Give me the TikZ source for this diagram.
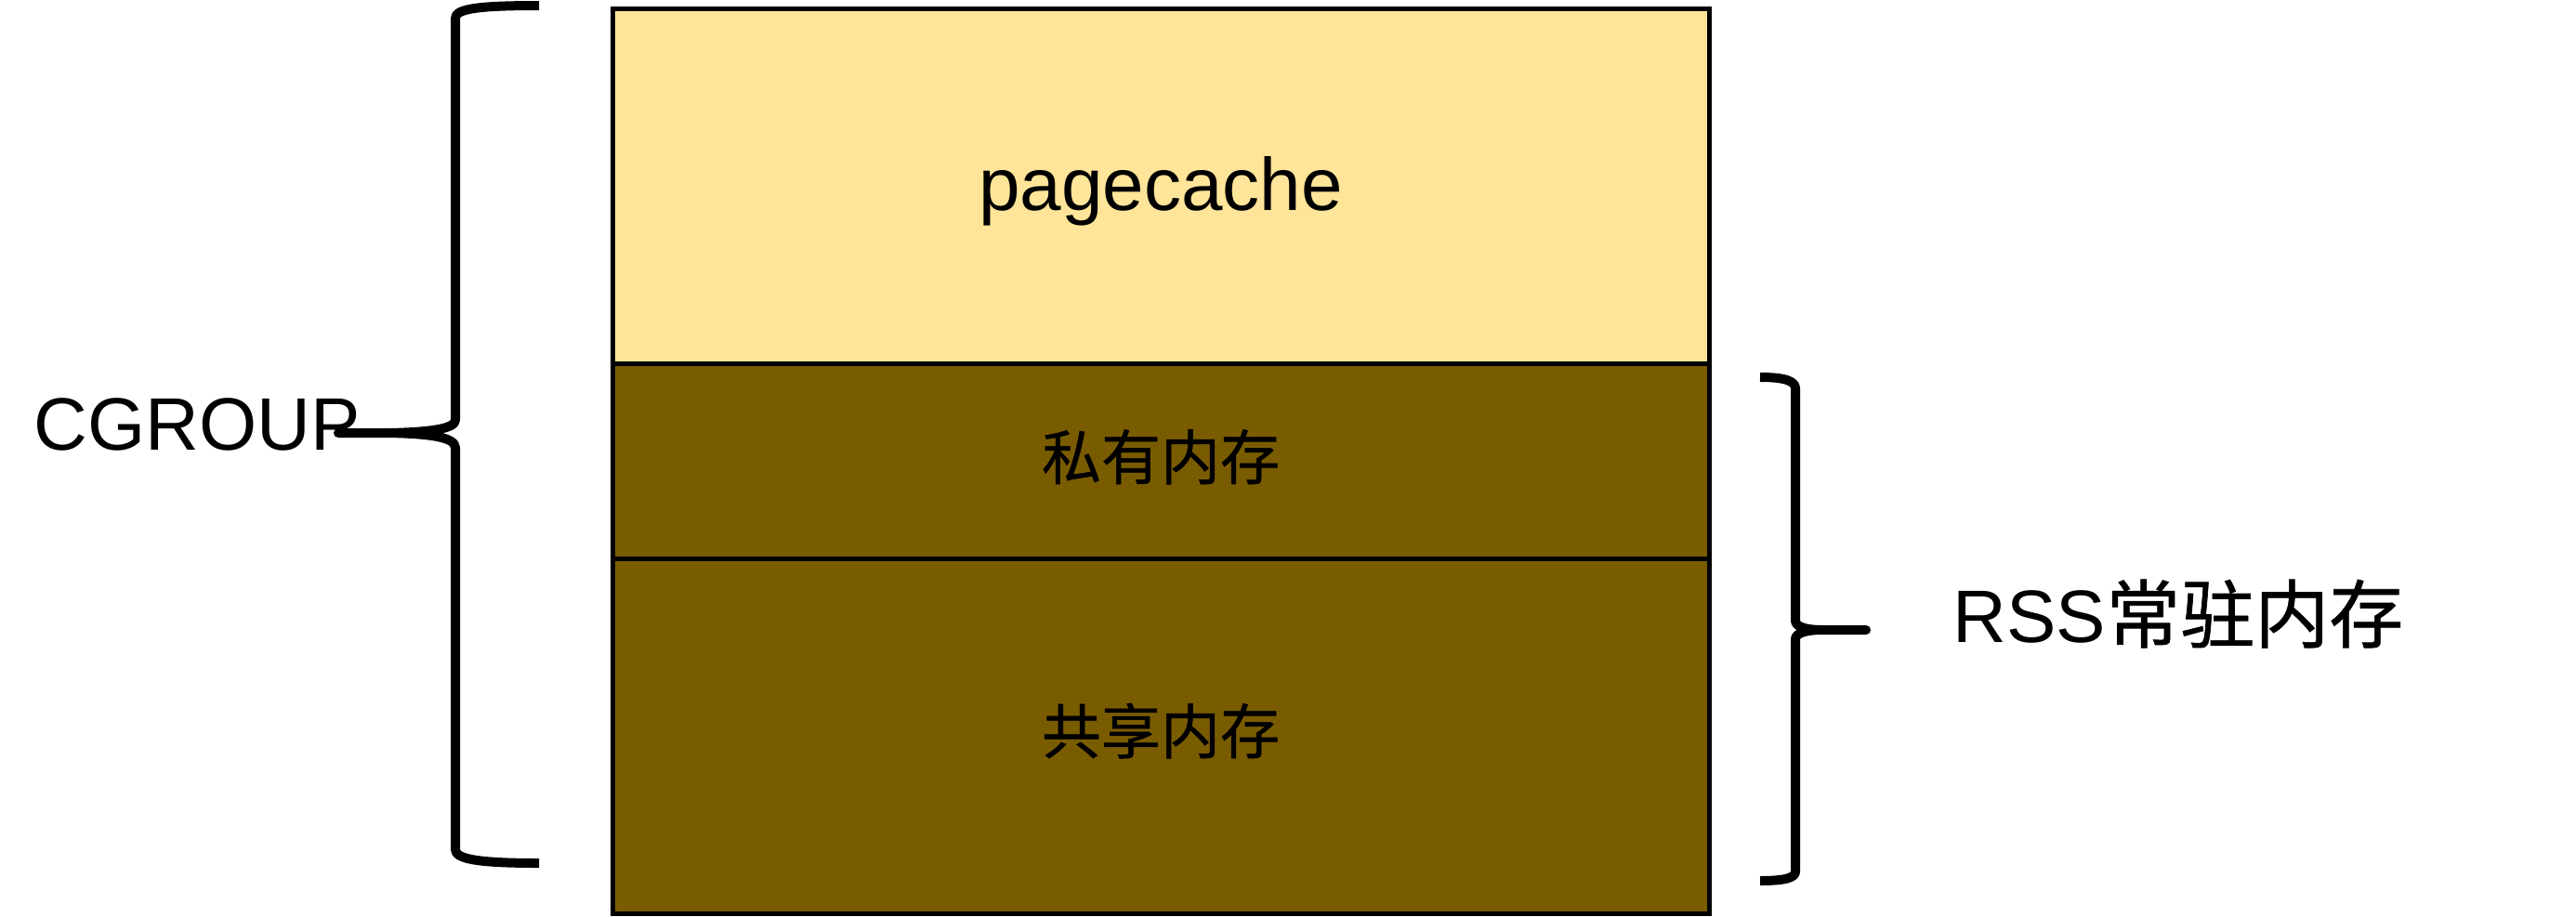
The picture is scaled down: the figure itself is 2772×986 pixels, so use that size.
\documentclass[tikz,border=0pt]{standalone}
\usepackage{fontspec}
\setmainfont{Liberation Sans}
\newfontfamily\cjk[FakeBold=0.8]{Noto Sans CJK SC}
\definecolor{cacheyellow}{HTML}{FFE599}
\definecolor{rssbrown}{HTML}{7A5C00}
\begin{document}
\begin{tikzpicture}[x=1pt,y=-1pt,
  memblock/.style={draw=black, line width=5pt, minimum width=1180pt, inner sep=0pt, outer sep=0pt, anchor=north west},
  bracket/.style={draw=black, line width=10pt, line cap=butt, line join=round},
  bigtext/.style={font=\fontsize{80}{96}\selectfont, inner sep=0pt, anchor=base},
  innertext/.style={font=\fontsize{64}{76}\selectfont\cjk, inner sep=0pt, anchor=base}]
\useasboundingbox (0,0) rectangle (2772,986);
% memory blocks
\node[memblock, fill=cacheyellow, minimum height=382pt] (cache) at (659,9) {};
\node[memblock, fill=rssbrown, minimum height=210pt] (priv) at (659,391) {};
\node[memblock, fill=rssbrown, minimum height=382pt] (shared) at (659,601) {};
% labels
\node[bigtext] (cachelbl) at (1249,226) {pagecache};
\node[innertext] (privlbl) at (1249,516) {私有内存};
\node[innertext] (sharedlbl) at (1249,811) {共享内存};
% CGROUP bracket
\draw[bracket] (580,6) .. controls (510,6) and (490,10) .. (490,20) -- (490,452)
  .. controls (490,462) and (460,465) .. (420,466) -- (364,466) -- (420,466)
  .. controls (460,467) and (490,470) .. (490,482) -- (490,914)
  .. controls (490,924) and (510,929) .. (580,929);
\node[bigtext] (cgroup) at (212,484) {CGROUP};
% RSS bracket
\draw[bracket] (1894,406) .. controls (1920,406) and (1932,410) .. (1932,418) -- (1932,668)
  .. controls (1932,675) and (1945,678) .. (1960,678) -- (2008,678) -- (1960,678)
  .. controls (1945,678) and (1932,681) .. (1932,688) -- (1932,938)
  .. controls (1932,945) and (1920,948) .. (1894,948);
\node[bigtext] (rss) at (2344,691) {RSS{\cjk 常驻内存}};
\end{tikzpicture}
\end{document}
